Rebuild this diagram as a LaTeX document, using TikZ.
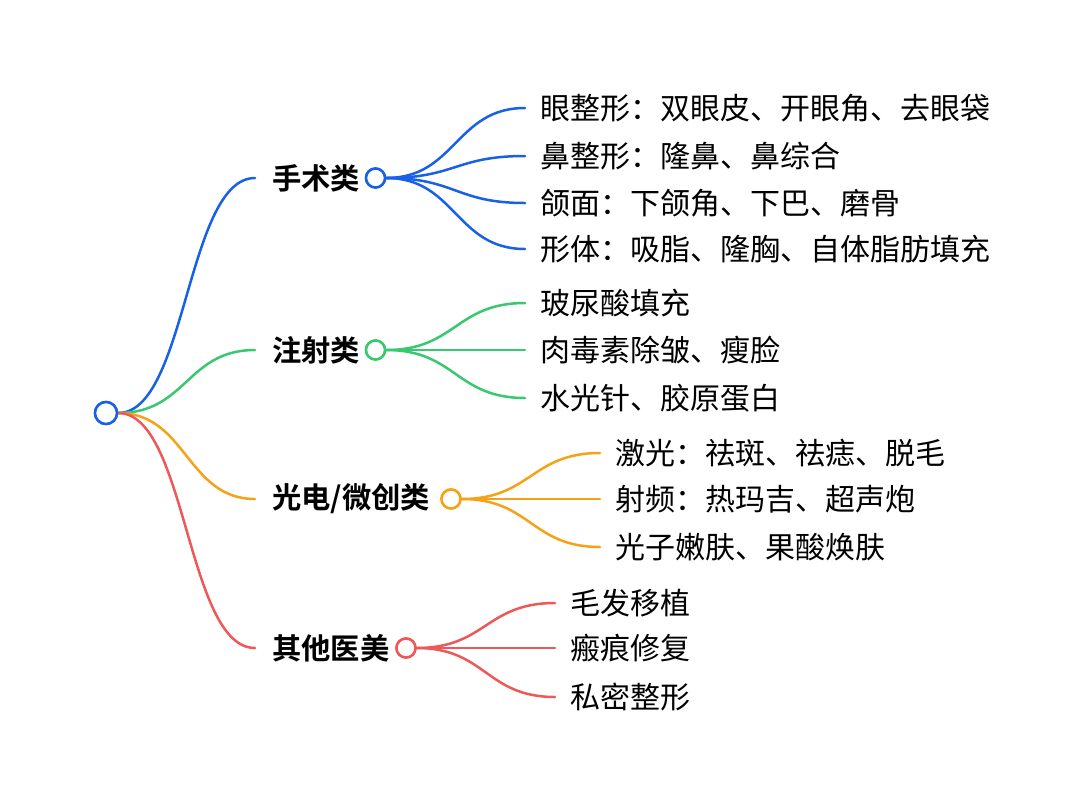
\documentclass[tikz,border=0pt]{standalone}
\usepackage{fontspec}
\usetikzlibrary{calc}
\newfontfamily\cjk{Noto Sans CJK SC}
\newfontfamily\cjkb{Noto Sans CJK SC Bold}
\definecolor{cblue}{RGB}{24,96,232}
\definecolor{cgreen}{RGB}{56,200,112}
\definecolor{corange}{RGB}{246,162,24}
\definecolor{cred}{RGB}{238,88,88}
\begin{document}
\begin{tikzpicture}[x=1pt,y=-1pt,
  dot/.style={circle,draw,line width=2.5pt,fill=white,inner sep=0pt,minimum size=#1},
  br/.style={anchor=west,inner xsep=17pt,inner ysep=0pt,font=\cjkb\fontsize{29.3}{30}\selectfont},
  lf/.style={anchor=west,inner xsep=15pt,inner ysep=0pt,font=\cjk\fontsize{30}{31}\selectfont},
  conn/.style={line width=2.5pt,line cap=round},
]
\useasboundingbox (0,0) rectangle (1080,804);
\def\curve#1#2#3{\draw[conn,#3] let \p1=(#1), \p2=(#2) in (\p1) .. controls ({(\x1+\x2)/2},\y1) and ({(\x1+\x2)/2},\y2) .. (\p2);}
% root
\node[dot=22pt,draw=cblue] (root) at (106,413) {};
% branches
\node[br] (b1) at (255,178) {手术类};
\node[br] (b2) at (255,350) {注射类};
\node[br] (b3) at (255,499) {光电/微创类};
\node[br] (b4) at (255,648) {其他医美};
\node[dot=19pt,draw=cblue] (c1) at (375.5,178) {};
\node[dot=19pt,draw=cgreen] (c2) at (375.5,350) {};
\node[dot=19pt,draw=corange] (c3) at (451,499) {};
\node[dot=19pt,draw=cred] (c4) at (406,648) {};
% leaves
\node[lf] (l11) at (525,108) {眼整形：双眼皮、开眼角、去眼袋};
\node[lf] (l12) at (525,156) {鼻整形：隆鼻、鼻综合};
\node[lf] (l13) at (525,203) {颌面：下颌角、下巴、磨骨};
\node[lf] (l14) at (525,249) {形体：吸脂、隆胸、自体脂肪填充};
\node[lf] (l21) at (525,303) {玻尿酸填充};
\node[lf] (l22) at (525,350) {肉毒素除皱、瘦脸};
\node[lf] (l23) at (525,398) {水光针、胶原蛋白};
\node[lf] (l31) at (600,453) {激光：祛斑、祛痣、脱毛};
\node[lf] (l32) at (600,499) {射频：热玛吉、超声炮};
\node[lf] (l33) at (600,547) {光子嫩肤、果酸焕肤};
\node[lf] (l41) at (555,603) {毛发移植};
\node[lf] (l42) at (555,648) {瘢痕修复};
\node[lf] (l43) at (555,697) {私密整形};
% connectors
\curve{root.east}{b1.west}{cblue}
\curve{root.east}{b2.west}{cgreen}
\curve{root.east}{b3.west}{corange}
\curve{root.east}{b4.west}{cred}
\curve{c1.east}{l11.west}{cblue}
\curve{c1.east}{l12.west}{cblue}
\curve{c1.east}{l13.west}{cblue}
\curve{c1.east}{l14.west}{cblue}
\curve{c2.east}{l21.west}{cgreen}
\curve{c2.east}{l22.west}{cgreen}
\curve{c2.east}{l23.west}{cgreen}
\curve{c3.east}{l31.west}{corange}
\curve{c3.east}{l32.west}{corange}
\curve{c3.east}{l33.west}{corange}
\curve{c4.east}{l41.west}{cred}
\curve{c4.east}{l42.west}{cred}
\curve{c4.east}{l43.west}{cred}
% circles on top
\node[dot=22pt,draw=cblue] at (root) {};
\node[dot=19pt,draw=cblue] at (c1) {};
\node[dot=19pt,draw=cgreen] at (c2) {};
\node[dot=19pt,draw=corange] at (c3) {};
\node[dot=19pt,draw=cred] at (c4) {};
\end{tikzpicture}
\end{document}
